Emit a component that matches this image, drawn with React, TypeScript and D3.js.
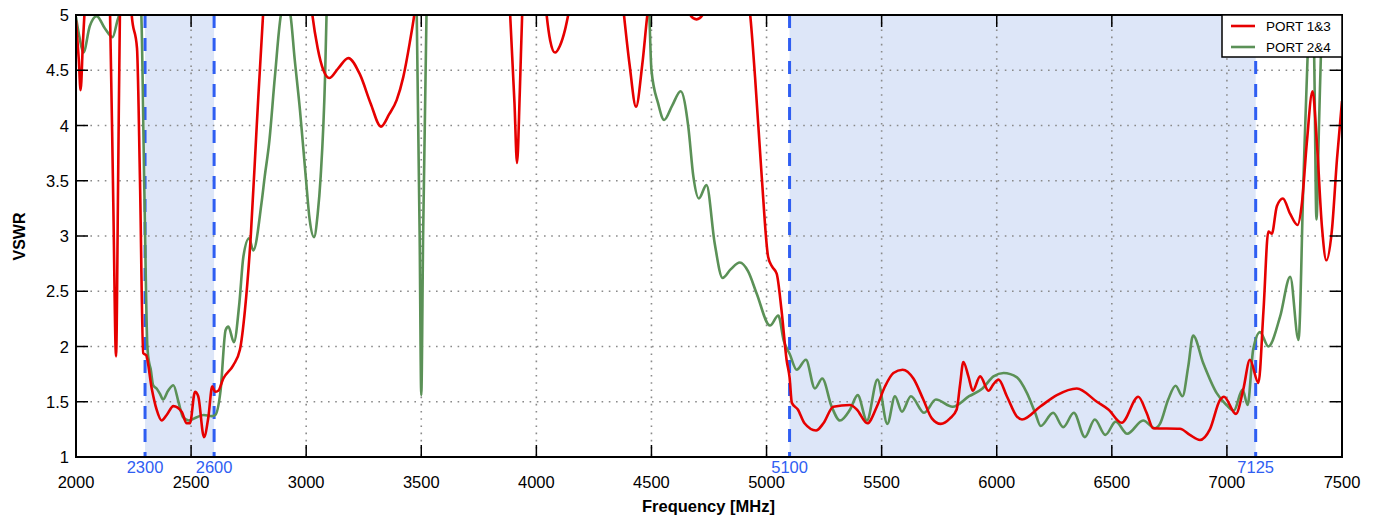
import React, { useEffect, useRef } from "react";
import * as d3 from "d3";

const xTicks = [2000, 2500, 3000, 3500, 4000, 4500, 5000, 5500, 6000, 6500, 7000, 7500];
const yTicks = [1, 1.5, 2, 2.5, 3, 3.5, 4, 4.5, 5];
const yTickLabels = ["1", "1.5", "2", "2.5", "3", "3.5", "4", "4.5", "5"];
const bands: [number, number][] = [[2300, 2600], [5100, 7125]];
const bandLabels = ["2300", "2600", "5100", "7125"];
const bandEdges = [2300, 2600, 5100, 7125];
const seriesNames = ["PORT 1&3", "PORT 2&4"];

const port13: [number, number][] = [
  [2000, 4.95], [2012, 4.6], [2020, 4.32], [2030, 4.75], [2039, 5.1], [2060, 5.8], [2100, 6], [2135, 5.6],
  [2148, 5.0], [2162, 3.3], [2174, 1.91], [2183, 3.5], [2191, 5.05], [2210, 6], [2235, 5.4], [2242, 5.0],
  [2265, 4.7], [2278, 3.5], [2292, 1.94], [2305, 1.92], [2329, 1.62], [2350, 1.43], [2372, 1.33], [2394, 1.38],
  [2423, 1.46], [2459, 1.41], [2481, 1.305], [2495, 1.305], [2517, 1.59], [2531, 1.55], [2556, 1.18], [2575, 1.36],
  [2592, 1.64], [2604, 1.59], [2618, 1.6], [2640, 1.71], [2683, 1.83], [2712, 1.97], [2734, 2.33], [2759, 2.99],
  [2785, 3.99], [2814, 5.05], [2850, 6], [2950, 6.5], [3000, 5.6], [3024, 5.05], [3050, 4.7], [3075, 4.5],
  [3100, 4.43], [3140, 4.52], [3183, 4.61], [3234, 4.46], [3280, 4.2], [3325, 3.99], [3360, 4.1], [3393, 4.23],
  [3422, 4.44], [3450, 4.75], [3473, 5.05], [3520, 6], [3700, 7], [3860, 5.8], [3885, 5.05], [3905, 4.2],
  [3916, 3.66], [3928, 4.3], [3939, 5.05], [3960, 5.6], [4020, 5.6], [4042, 5.05], [4060, 4.77], [4081, 4.66],
  [4102, 4.72], [4125, 4.87], [4143, 5.05], [4200, 5.8], [4350, 5.6], [4378, 5.05], [4405, 4.55], [4433, 4.17],
  [4460, 4.55], [4485, 5.05], [4530, 5.4], [4640, 5.2], [4665, 5.01], [4696, 4.96], [4725, 5.01], [4760, 5.2],
  [4900, 5.3], [4928, 5.02], [4950, 4.44], [4979, 3.54], [5007, 2.81], [5025, 2.72], [5044, 2.66], [5065, 2.33],
  [5087, 1.88], [5100, 1.72], [5110, 1.49], [5136, 1.43], [5165, 1.305], [5215, 1.24], [5247, 1.305], [5290, 1.455],
  [5363, 1.47], [5392, 1.43], [5438, 1.305], [5479, 1.455], [5515, 1.64], [5551, 1.76], [5591, 1.79], [5638, 1.71],
  [5681, 1.52], [5718, 1.35], [5757, 1.30], [5797, 1.35], [5826, 1.43], [5841, 1.66], [5855, 1.86], [5877, 1.73],
  [5896, 1.60], [5928, 1.73], [5964, 1.60], [5986, 1.66], [6008, 1.70], [6044, 1.55], [6088, 1.365], [6110, 1.34],
  [6188, 1.455], [6261, 1.56], [6348, 1.62], [6435, 1.50], [6485, 1.43], [6543, 1.31], [6615, 1.545], [6651, 1.40],
  [6680, 1.26], [6796, 1.255], [6839, 1.20], [6883, 1.154], [6926, 1.25], [6970, 1.516], [6987, 1.545], [7039, 1.39],
  [7071, 1.61], [7100, 1.88], [7137, 1.67], [7159, 2.33], [7180, 3.04], [7195, 3.02], [7217, 3.27], [7243, 3.34],
  [7275, 3.20], [7307, 3.10], [7326, 3.30], [7347, 3.84], [7372, 4.31], [7391, 3.84], [7413, 3.08], [7432, 2.78],
  [7456, 3.05], [7478, 3.69], [7500, 4.22],
];

const port24: [number, number][] = [
  [2000, 4.98], [2015, 4.8], [2032, 4.66], [2060, 4.9], [2090, 4.99], [2125, 4.88], [2159, 4.80], [2180, 4.95],
  [2194, 5.05], [2230, 5.6], [2265, 5.4], [2283, 5.05], [2297, 3.4], [2310, 2.0], [2318, 1.85], [2324, 1.80],
  [2335, 1.65], [2350, 1.62], [2365, 1.57], [2378, 1.52], [2400, 1.6], [2423, 1.65], [2445, 1.5], [2465, 1.36],
  [2490, 1.33], [2525, 1.36], [2555, 1.38], [2590, 1.37], [2605, 1.38], [2628, 1.6], [2650, 2.15], [2662, 2.18],
  [2686, 2.04], [2710, 2.4], [2727, 2.81], [2752, 2.98], [2770, 2.87], [2806, 3.30], [2820, 3.54], [2839, 3.84],
  [2864, 4.44], [2893, 5.03], [2912, 5.1], [2930, 5.02], [2950, 4.6], [2973, 4.14], [2998, 3.54], [3015, 3.15],
  [3034, 2.99], [3050, 3.2], [3063, 3.54], [3082, 4.44], [3089, 5.05], [3110, 6], [3300, 7], [3460, 6],
  [3480, 5.05], [3493, 3.0], [3500, 1.56], [3508, 3.0], [3523, 5.05], [3550, 6.5], [4000, 7], [4460, 6],
  [4490, 5.05], [4500, 4.5], [4529, 4.20], [4555, 4.05], [4590, 4.18], [4627, 4.31], [4660, 3.99], [4682, 3.54],
  [4706, 3.34], [4739, 3.46], [4775, 2.93], [4809, 2.62], [4845, 2.70], [4884, 2.76], [4920, 2.68], [4957, 2.48],
  [5015, 2.19], [5051, 2.28], [5075, 2.05], [5101, 1.93], [5131, 1.79], [5171, 1.88], [5210, 1.62], [5242, 1.71],
  [5283, 1.455], [5319, 1.33], [5363, 1.43], [5396, 1.56], [5436, 1.33], [5482, 1.70], [5525, 1.30], [5558, 1.55],
  [5588, 1.41], [5627, 1.55], [5685, 1.40], [5736, 1.52], [5808, 1.455], [5880, 1.55], [5938, 1.62], [5986, 1.73],
  [6030, 1.76], [6088, 1.72], [6131, 1.58], [6167, 1.40], [6191, 1.28], [6245, 1.40], [6289, 1.27], [6335, 1.40],
  [6383, 1.18], [6426, 1.34], [6472, 1.20], [6517, 1.32], [6567, 1.21], [6636, 1.33], [6687, 1.26], [6709, 1.30],
  [6745, 1.52], [6777, 1.645], [6807, 1.55], [6832, 1.82], [6853, 2.10], [6897, 1.85], [6955, 1.58], [6998, 1.47],
  [7030, 1.42], [7068, 1.61], [7090, 1.47], [7114, 1.97], [7144, 2.13], [7180, 2.0], [7231, 2.27], [7275, 2.63],
  [7311, 2.06], [7333, 3.54], [7350, 4.59], [7362, 5.05], [7372, 5.5], [7380, 4.5], [7389, 3.15], [7400, 4.0],
  [7414, 5.05], [7440, 6], [7500, 6.5],
];

const W = 1378, H = 518;
const M = { left: 76, right: 1342, top: 15, bottom: 457 };
const FONT = "'Liberation Sans', Arial, sans-serif";

export default function App() {
  const ref = useRef<SVGSVGElement>(null);
  useEffect(() => {
    document.body.style.margin = "0";
    const svg = d3.select(ref.current);
    svg.selectAll("*").remove();
    const x = d3.scaleLinear().domain([2000, 7500]).range([M.left, M.right]);
    const y = d3.scaleLinear().domain([1, 5]).range([M.bottom, M.top]);

    svg.append("rect").attr("width", W).attr("height", H).attr("fill", "#fff");
    svg.append("defs").append("clipPath").attr("id", "plotclip")
      .append("rect").attr("x", M.left).attr("y", M.top)
      .attr("width", M.right - M.left).attr("height", M.bottom - M.top);

    // bands
    svg.selectAll(".band").data(bands).enter().append("rect")
      .attr("x", d => x(d[0])).attr("y", M.top)
      .attr("width", d => x(d[1]) - x(d[0])).attr("height", M.bottom - M.top)
      .attr("fill", "#dde6f8");

    // grid
    const g = svg.append("g");
    g.selectAll(".gx").data(xTicks.slice(1, -1)).enter().append("line")
      .attr("x1", d => x(d)).attr("x2", d => x(d)).attr("y1", M.top).attr("y2", M.bottom)
      .attr("stroke", "#8a8a8a").attr("stroke-width", 1.6).attr("stroke-dasharray", "1.6,5.6");
    g.selectAll(".gy").data(yTicks.slice(1, -1)).enter().append("line")
      .attr("y1", d => y(d)).attr("y2", d => y(d)).attr("x1", M.left).attr("x2", M.right)
      .attr("stroke", "#8a8a8a").attr("stroke-width", 1.6).attr("stroke-dasharray", "1.6,5.6");

    // band edges
    svg.selectAll(".edge").data(bandEdges).enter().append("line")
      .attr("x1", d => x(d)).attr("x2", d => x(d)).attr("y1", M.top).attr("y2", M.bottom)
      .attr("stroke", "#2f5ef2").attr("stroke-width", 3).attr("stroke-dasharray", "13,10");

    // lines
    const line = d3.line<[number, number]>().x(d => x(d[0])).y(d => y(d[1])).curve(d3.curveMonotoneX);
    const lines = svg.append("g").attr("clip-path", "url(#plotclip)");
    lines.append("path").attr("d", line(port24)).attr("fill", "none").attr("stroke", "#5b9157").attr("stroke-width", 2.6);
    lines.append("path").attr("d", line(port13)).attr("fill", "none").attr("stroke", "#e60000").attr("stroke-width", 2.6);

    // ticks
    const tk = svg.append("g").attr("stroke", "#000").attr("stroke-width", 1.5);
    xTicks.slice(1, -1).forEach(v => {
      tk.append("line").attr("x1", x(v)).attr("x2", x(v)).attr("y1", M.bottom).attr("y2", M.bottom - 12);
      tk.append("line").attr("x1", x(v)).attr("x2", x(v)).attr("y1", M.top).attr("y2", M.top + 12);
    });
    yTicks.slice(1, -1).forEach(v => {
      tk.append("line").attr("y1", y(v)).attr("y2", y(v)).attr("x1", M.left).attr("x2", M.left + 12);
      tk.append("line").attr("y1", y(v)).attr("y2", y(v)).attr("x1", M.right).attr("x2", M.right - 12);
    });

    // frame
    svg.append("rect").attr("x", M.left).attr("y", M.top).attr("width", M.right - M.left)
      .attr("height", M.bottom - M.top).attr("fill", "none").attr("stroke", "#000").attr("stroke-width", 2);

    // tick labels
    svg.selectAll(".xl").data(xTicks).enter().append("text")
      .attr("x", d => x(d)).attr("y", 488).attr("text-anchor", "middle")
      .attr("font-family", FONT).attr("font-size", 16.5).attr("fill", "#000").text(d => String(d));
    svg.selectAll(".yl").data(yTicks).enter().append("text")
      .attr("x", 69).attr("y", d => y(d) + 6).attr("text-anchor", "end")
      .attr("font-family", FONT).attr("font-size", 16.5).attr("fill", "#000")
      .text((d, i) => yTickLabels[i]);
    svg.selectAll(".bl").data(bandEdges).enter().append("text")
      .attr("x", d => x(d)).attr("y", 473).attr("text-anchor", "middle")
      .attr("font-family", FONT).attr("font-size", 16.5).attr("fill", "#2f5ef2")
      .text((d, i) => bandLabels[i]);

    // axis titles
    svg.append("text").attr("x", 708.5).attr("y", 512).attr("text-anchor", "middle")
      .attr("font-family", FONT).attr("font-weight", "bold").attr("font-size", 16.5).text("Frequency [MHz]");
    svg.append("text").attr("transform", `translate(24.5,236.5) rotate(-90)`)
      .attr("text-anchor", "middle").attr("font-family", FONT).attr("font-weight", "bold")
      .attr("font-size", 16).text("VSWR");

    // legend
    const lg = svg.append("g");
    lg.append("rect").attr("x", 1222).attr("y", M.top).attr("width", M.right - 1222).attr("height", 42)
      .attr("fill", "#fff").attr("stroke", "#000").attr("stroke-width", 1.5);
    const colors = ["#e60000", "#5b9157"];
    seriesNames.forEach((n, i) => {
      const yy = 26 + i * 21;
      lg.append("line").attr("x1", 1231).attr("x2", 1255).attr("y1", yy).attr("y2", yy)
        .attr("stroke", colors[i]).attr("stroke-width", 2.6);
      lg.append("text").attr("x", 1266).attr("y", yy + 5).attr("font-family", FONT)
        .attr("font-size", 13.5).attr("fill", "#000").text(n);
    });
  }, []);
  return <svg ref={ref} width={W} height={H} style={{ display: "block" }} />;
}
